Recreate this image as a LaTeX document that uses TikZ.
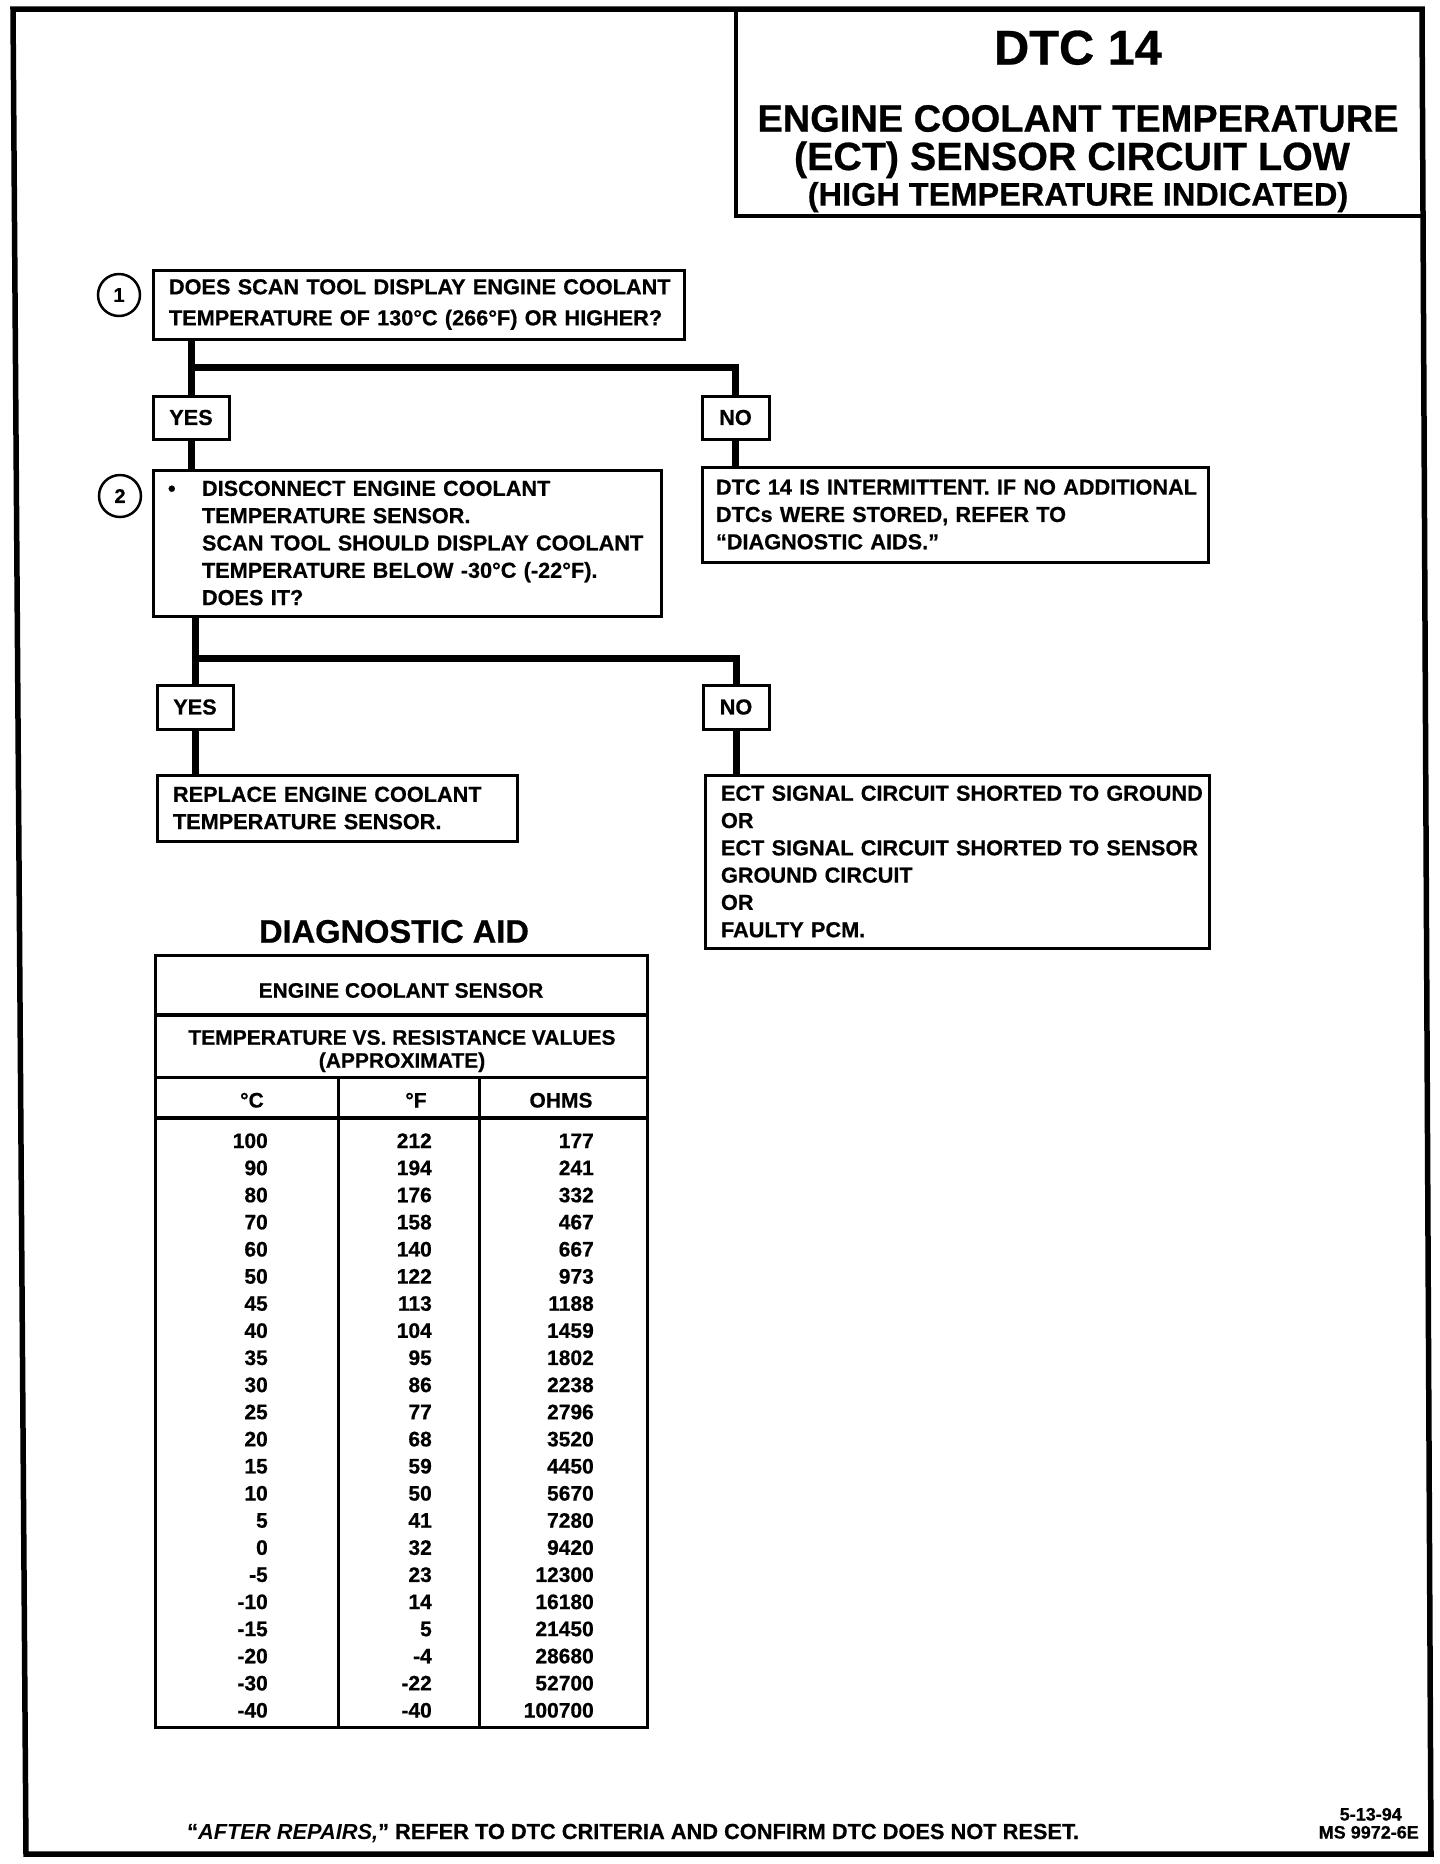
\documentclass[tikz,border=0pt]{standalone}
\usepackage{fontspec}
\setmainfont{Liberation Sans}[BoldFeatures={FakeBold=0.6}]
\usepackage{tikz}
\usetikzlibrary{calc}
\newcommand{\boxfont}{\fontsize{21.7}{27.3}\selectfont\bfseries}
\newcommand{\tabfont}{\fontsize{21}{23}\selectfont\bfseries}

\begin{document}
\begin{tikzpicture}[x=1pt, y=-1pt,
    stepbox/.style={draw, line width=3pt, outer sep=0pt, inner sep=0pt,
      anchor=north west, align=left, font=\boxfont, execute at begin node={\leftskip=15pt}},
    answer/.style={draw, line width=3pt, outer sep=0pt, inner sep=0pt, font=\boxfont},
    link/.style={line width=7pt},
    numcirc/.style={draw, circle, line width=2.5pt, minimum size=42pt, inner sep=0pt,
      font=\fontsize{20}{20}\selectfont\bfseries},
    head/.style={anchor=base, inner sep=0pt, font=\tabfont},
    cell/.style={anchor=base east, inner sep=0pt, font=\tabfont}]
      \useasboundingbox (0,0) rectangle (1440,1864);
      % Frame (scanned sheet, slightly skewed)
      \draw[line width=5.5pt] (13,9) -- (1422,9) -- (1431,1854) -- (26,1854) -- cycle;
      % Title block
      \node[draw, line width=4pt, outer sep=0pt, anchor=north west,
        minimum width=687pt, minimum height=207pt] (titlebox) at (736,9) {};
      \node[anchor=base, inner sep=0pt, font=\fontsize{48.7}{50}\selectfont\bfseries] (dtc) at (1078,64.5) {DTC 14};
      \node[anchor=base, inner sep=0pt, font=\fontsize{38}{40}\selectfont\bfseries] (tline1) at (1078,131.6) {ENGINE COOLANT TEMPERATURE};
      \node[anchor=base, inner sep=0pt, font=\fontsize{39.4}{40}\selectfont\bfseries] (tline2) at (1072,170) {(ECT) SENSOR CIRCUIT LOW};
      \node[anchor=base, inner sep=0pt, font=\fontsize{32.5}{34}\selectfont\bfseries] (tline3) at (1078,205.6) {(HIGH TEMPERATURE INDICATED)};
      % Step 1
      \node[numcirc] (c1) at (119,295) {1};
      \node[stepbox, text width=531pt, minimum height=69pt,
        font=\fontsize{21.7}{31}\selectfont\bfseries, execute at begin node={\leftskip=16pt}] (q1) at (153,270)
        {DOES SCAN TOOL DISPLAY ENGINE COOLANT\\TEMPERATURE OF 130°C (266°F) OR HIGHER?};
      \node[answer, minimum width=76pt, minimum height=43pt] (yes1) at (191,417.5) {YES};
      \node[answer, minimum width=67pt, minimum height=43pt] (no1) at (735.5,417.5) {NO};
      % Step 2
      \node[numcirc] (c2) at (120,496) {2};
      \node[stepbox, text width=508pt, minimum height=146pt] (q2) at (153,470)
        {\makebox[34pt][l]{•}DISCONNECT ENGINE COOLANT\\
         \hspace*{34pt}TEMPERATURE SENSOR.\\
         \hspace*{34pt}SCAN TOOL  SHOULD DISPLAY COOLANT\\
         \hspace*{34pt}TEMPERATURE BELOW -30°C (-22°F).\\
         \hspace*{34pt}DOES IT?};
      \node[stepbox, text width=506pt, minimum height=95pt, execute at begin node={\leftskip=14pt}] (r1) at (702,467)
        {DTC 14 IS INTERMITTENT.  IF NO ADDITIONAL\\DTCs WERE STORED, REFER TO\\“DIAGNOSTIC AIDS.”};
      \node[answer, minimum width=76pt, minimum height=44pt] (yes2) at (195,707) {YES};
      \node[answer, minimum width=66pt, minimum height=44pt] (no2) at (736,707) {NO};
      % Results
      \node[stepbox, text width=360pt, minimum height=66pt, execute at begin node={\leftskip=16pt}] (r2) at (157,775)
        {REPLACE ENGINE COOLANT\\TEMPERATURE SENSOR.};
      \node[stepbox, text width=504pt, minimum height=173pt, execute at begin node={\leftskip=16pt}] (r3) at (705,775)
        {ECT SIGNAL CIRCUIT SHORTED TO GROUND\\OR\\ECT SIGNAL CIRCUIT SHORTED TO SENSOR\\GROUND CIRCUIT\\OR\\FAULTY PCM.};
      % Connectors
      \coordinate (j1) at ($(yes1.north)+(0,-29)$);
      \coordinate (j2) at ($(yes2.north)+(0,-27)$);
      \draw[link] (yes1.north |- q1.south) -- (yes1.north);
      \draw[link] (j1) -| (no1.north);
      \draw[link] (yes1.south) -- (yes1.south |- q2.north);
      \draw[link] (no1.south) -- (no1.south |- r1.north);
      \draw[link] (yes2.north |- q2.south) -- (yes2.north);
      \draw[link] (j2) -| (no2.north);
      \draw[link] (yes2.south) -- (yes2.south |- r2.north);
      \draw[link] (no2.south) -- (no2.south |- r3.north);
      % Diagnostic aid table
      \node[anchor=base, inner sep=0pt, font=\fontsize{32.6}{34}\selectfont\bfseries] (aidtitle) at (394,942.7) {DIAGNOSTIC AID};
      \draw[line width=3pt] (155,955) rectangle (647,1727);
      \draw[line width=4pt] (155,1015) -- (647,1015);
      \draw[line width=3pt] (155,1077) -- (647,1077);
      \draw[line width=4pt] (155,1118) -- (647,1118);
      \draw[line width=3pt] (338,1077) -- (338,1727);
      \draw[line width=3pt] (479,1077) -- (479,1727);
      \node[head] (sensor) at (401,997.7) {ENGINE COOLANT SENSOR};
      \node[head] (tvr) at (402,1044.7) {TEMPERATURE VS. RESISTANCE VALUES};
      \node[head] (approx) at (402,1067.7) {(APPROXIMATE)};
      \node[head] (hc) at (252,1107.5) {°C};
      \node[head] (hf) at (416,1107.5) {°F};
      \node[head] (ho) at (561,1107.5) {OHMS};
      \foreach \tc/\tf/\ohm [count=\i from 0] in {100/212/177, 90/194/241, 80/176/332, 70/158/467,
          60/140/667, 50/122/973, 45/113/1188, 40/104/1459, 35/95/1802, 30/86/2238, 25/77/2796,
          20/68/3520, 15/59/4450, 10/50/5670, 5/41/7280, 0/32/9420, -5/23/12300, -10/14/16180,
          -15/5/21450, -20/-4/28680, -30/-22/52700, -40/-40/100700} {
        \node[cell] (tc\i) at (268,{1148+27.12*\i}) {\tc};
        \node[cell] (tf\i) at (432,{1148+27.12*\i}) {\tf};
        \node[cell] (ohm\i) at (594,{1148+27.12*\i}) {\ohm};
      }
      % Footer
      \node[anchor=base west, inner sep=0pt, font=\fontsize{21.8}{22}\selectfont\bfseries] (footer) at (187,1839)
        {“\textit{AFTER REPAIRS,}” REFER TO DTC CRITERIA AND CONFIRM DTC DOES NOT RESET.};
      \node[anchor=base east, inner sep=0pt, font=\fontsize{18}{18}\selectfont\bfseries] (date) at (1402,1820.5) {5-13-94};
      \node[anchor=base east, inner sep=0pt, font=\fontsize{18}{18}\selectfont\bfseries] (msno) at (1419,1838.5) {MS 9972-6E};
    \end{tikzpicture}
\end{document}
